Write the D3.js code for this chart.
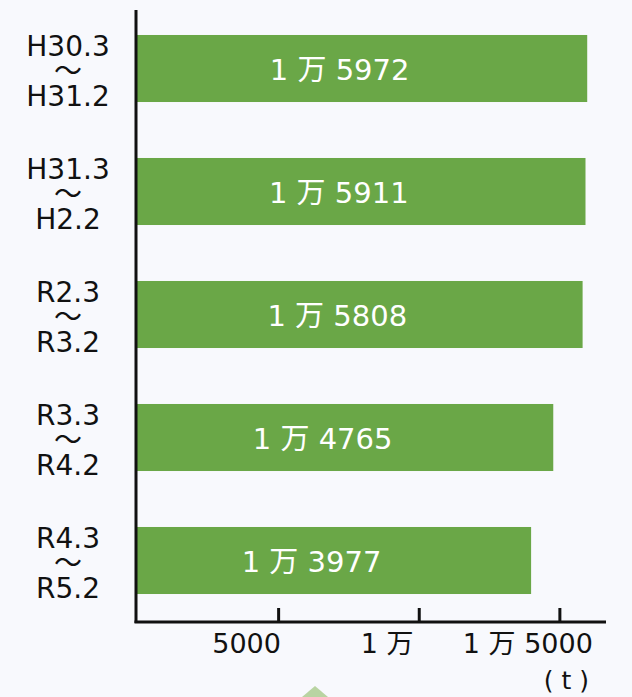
<!DOCTYPE html>
<html>
<head>
<meta charset="utf-8">
<script src="https://cdn.jsdelivr.net/npm/d3@7"></script>
<style>
  body { margin: 0; background: #f8f9fd; }
</style>
</head>
<body>
<script type="text/javascript">
var w = 632;
var h = 697;

// DATA
var periodFrom = ["H30.3", "H31.3", "R2.3", "R3.3", "R4.3"];
var periodTo = ["H31.2", "H2.2", "R3.2", "R4.2", "R5.2"];
var tonnes = [15972, 15911, 15808, 14765, 13977];
var barLabels = ["1 万 5972", "1 万 5911", "1 万 5808", "1 万 4765", "1 万 3977"];
var tickValues = [5000, 10000, 15000];
var tickLabels = ["5000", "1 万", "1 万 5000"];
var unitLabel = "( t )";

var font = "'DejaVu Sans', 'Noto Sans CJK JP', sans-serif";
var green = "#6aa747";

var Xscale = d3.scaleLinear().domain([0, 16000]).range([138, 588]);
var Yscale = d3.scaleBand().domain(periodFrom).range([7, 622])
  .paddingInner(0.455).paddingOuter(0.2275);

//CREATE MAIN SVG ELEMENT
const svg = d3.select("body").append("svg").attr('width', w).attr('height', h)
  .style('display', 'block').style('background-color', '#f8f9fd');

// faint decoration at the bottom
svg.append('path').attr('d', 'M302,697 L315,686 L328,697 Z').attr('fill', '#b9d4a2');

//DRAW THE BARS
var bars = svg.append('g');
bars.selectAll('rect').data(periodFrom).enter().append('rect')
  .attr('x', 136)
  .attr('y', function(d){ return Yscale(d); })
  .attr('width', function(d, i){ return Xscale(tonnes[i]) - 136; })
  .attr('height', Yscale.bandwidth())
  .attr('fill', green);

bars.selectAll('text').data(periodFrom).enter().append('text')
  .attr('x', function(d, i){ return (136 + Xscale(tonnes[i])) / 2 - 22; })
  .attr('y', function(d){ return Yscale(d) + Yscale.bandwidth() / 2 + 11; })
  .attr('text-anchor', 'middle')
  .attr('fill', 'white')
  .style('font-family', font).style('font-size', '29px')
  .text(function(d, i){ return barLabels[i]; });

//CATEGORY LABELS
var cats = svg.append('g').style('font-family', font).style('font-size', '28px').attr('fill', '#111');
periodFrom.forEach(function(d, i){
  var cy = Yscale(d) + Yscale.bandwidth() / 2;
  cats.append('text').attr('x', 68).attr('y', cy - 12.5).attr('text-anchor', 'middle').text(d);
  cats.append('text').attr('x', 68).attr('y', cy + 12).attr('text-anchor', 'middle')
    .style('font-family', "'Noto Sans CJK JP'").text("〜");
  cats.append('text').attr('x', 68).attr('y', cy + 37.5).attr('text-anchor', 'middle').text(periodTo[i]);
});

//AXES
svg.append('line').attr('x1', 136).attr('x2', 136).attr('y1', 10).attr('y2', 623)
  .attr('stroke', '#111').attr('stroke-width', 3);
svg.append('line').attr('x1', 134.5).attr('x2', 606).attr('y1', 622).attr('y2', 622)
  .attr('stroke', '#111').attr('stroke-width', 3);

var ticks = svg.append('g');
ticks.selectAll('line').data(tickValues).enter().append('line')
  .attr('x1', function(d){ return Xscale(d); }).attr('x2', function(d){ return Xscale(d); })
  .attr('y1', 608).attr('y2', 622)
  .attr('stroke', '#111').attr('stroke-width', 3);
ticks.selectAll('text').data(tickValues).enter().append('text')
  .attr('x', function(d){ return Xscale(d) - 32; })
  .attr('y', 653)
  .attr('text-anchor', 'middle')
  .attr('fill', '#111')
  .style('font-family', font).style('font-size', '27px')
  .text(function(d, i){ return tickLabels[i]; });

svg.append('text').attr('x', 589).attr('y', 689).attr('text-anchor', 'end')
  .attr('fill', '#111').style('font-family', font).style('font-size', '25px')
  .text(unitLabel);
</script>
</body>
</html>
